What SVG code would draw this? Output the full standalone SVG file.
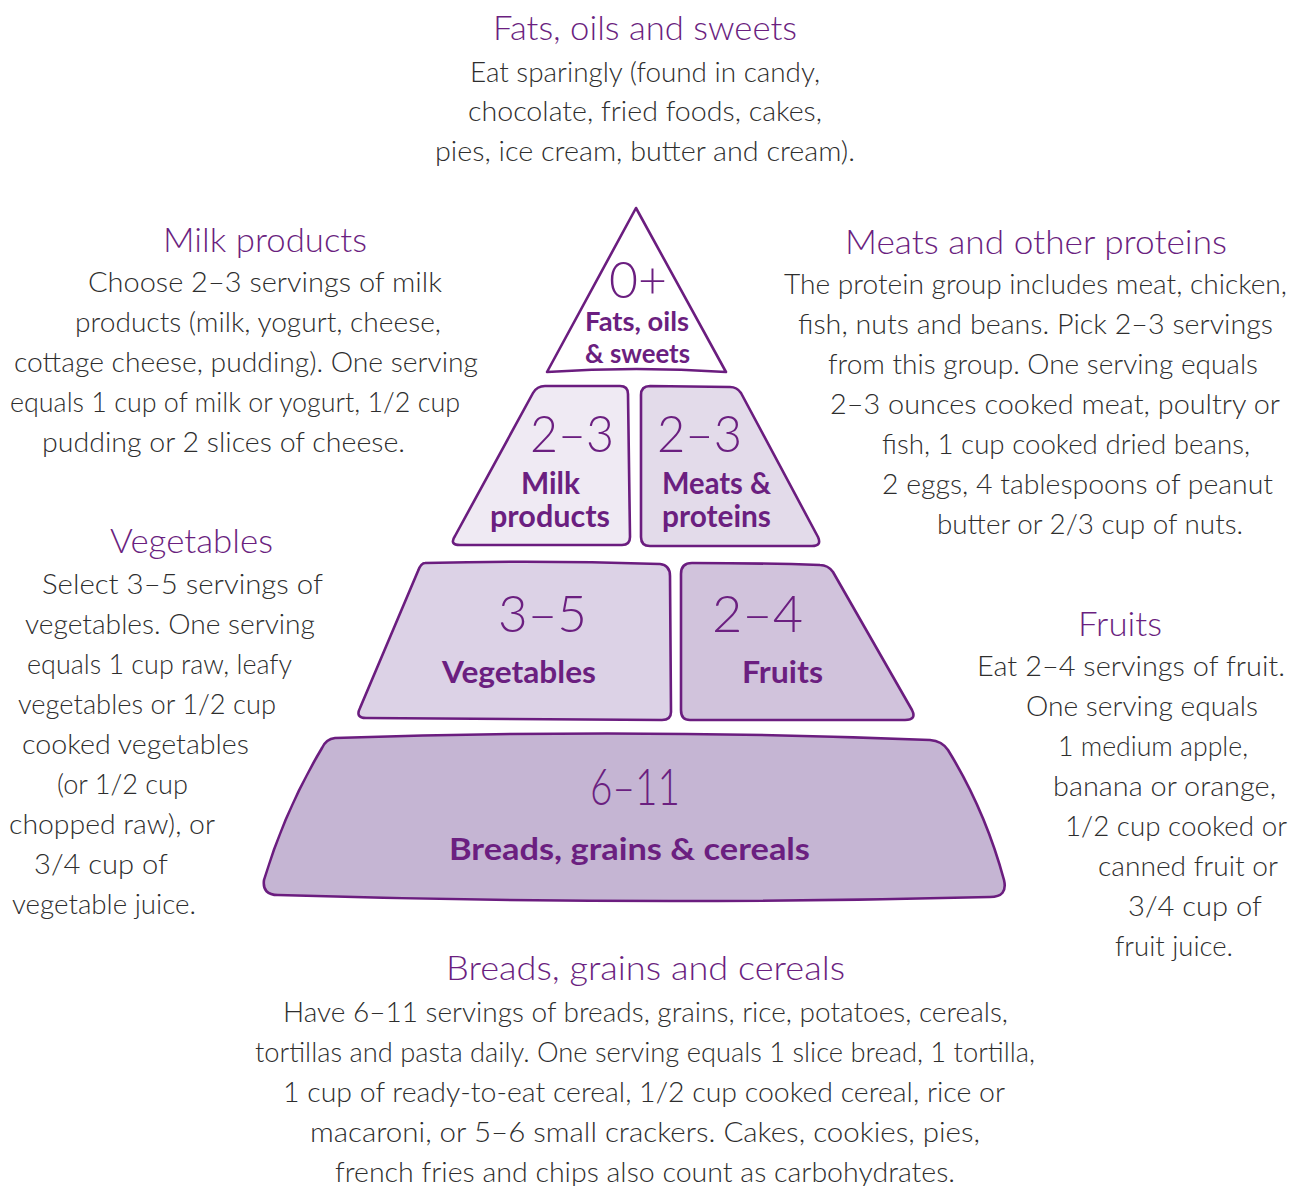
<svg xmlns="http://www.w3.org/2000/svg" width="1305" height="1186" viewBox="0 0 1305 1186">
<style>
.tier{stroke:#6b1d7f;stroke-width:2.6;stroke-linejoin:round}
.h{font-family:Lato,"Noto Sans",sans-serif;font-size:34px;fill:#6b1f80;font-weight:300}
.b{font-family:Lato,"Noto Sans",sans-serif;font-size:28px;fill:#2e2e2e;font-weight:300}
.num{font-family:Lato,"Noto Sans",sans-serif;font-size:52px;fill:#6b1f80;font-weight:300}
.lbl{font-family:Lato,"Open Sans",sans-serif;font-size:30px;fill:#6b1f80;font-weight:bold}
</style>
<rect width="1305" height="1186" fill="#ffffff"/>
<g id="connectors"></g>
<g id="tier-fats">
<path class="tier" fill="#ffffff" d="M636,208 L726,372 Q636,366 547,372 Z"/>
<text class="num" x="609" y="298" textLength="58" lengthAdjust="spacingAndGlyphs">0+</text>
<text class="lbl" style="font-size:26px" x="585" y="331" textLength="104" lengthAdjust="spacingAndGlyphs">Fats, oils</text>
<text class="lbl" style="font-size:26px" x="585" y="363" textLength="105" lengthAdjust="spacingAndGlyphs">&amp; sweets</text>
</g>
<g id="tier-milk">
<path class="tier" fill="#efeaf3" d="M545,386 L620,386 Q628,386 628,394 L630,537 Q630,545 622,545 L460,545 Q449,545 455,536 L533,393 Q537,386 545,386 Z"/>
<text class="num" x="530" y="452" textLength="84" lengthAdjust="spacingAndGlyphs">2–3</text>
<text class="lbl" x="521" y="494" textLength="59" lengthAdjust="spacingAndGlyphs">Milk</text>
<text class="lbl" x="490" y="527" textLength="120" lengthAdjust="spacingAndGlyphs">products</text>
</g>
<g id="tier-meats">
<path class="tier" fill="#e3dbea" d="M650,386 L730,387 Q737,387 741,393 L818,537 Q822,546 812,546 L650,546 Q641,546 641,537 L641,395 Q641,386 650,386 Z"/>
<text class="num" x="657" y="452" textLength="85" lengthAdjust="spacingAndGlyphs">2–3</text>
<text class="lbl" x="662" y="494" textLength="109" lengthAdjust="spacingAndGlyphs">Meats &amp;</text>
<text class="lbl" x="662" y="527" textLength="109" lengthAdjust="spacingAndGlyphs">proteins</text>
</g>
<g id="tier-vegetables">
<path class="tier" fill="#dcd2e6" d="M425,563 Q540,560 660,564 Q670,565 670,576 L671,712 Q671,720 662,720 L366,718 Q355,718 360,708 L418,571 Q421,563 425,563 Z"/>
<text class="num" x="498" y="632" textLength="89" lengthAdjust="spacingAndGlyphs">3–5</text>
<text class="lbl" x="442" y="683" textLength="154" lengthAdjust="spacingAndGlyphs">Vegetables</text>
</g>
<g id="tier-fruits">
<path class="tier" fill="#d1c3dc" d="M692,563 Q760,563 820,565 Q828,565 833,572 L912,710 Q917,720 905,720 L690,720 Q681,720 681,710 L681,574 Q681,563 692,563 Z"/>
<text class="num" x="712" y="632" textLength="91" lengthAdjust="spacingAndGlyphs">2–4</text>
<text class="lbl" x="742" y="683" textLength="81" lengthAdjust="spacingAndGlyphs">Fruits</text>
</g>
<g id="tier-breads">
<path class="tier" fill="#c5b5d3" d="M335,738 Q636,728 930,740 Q942,741 948,750 Q985,810 1004,880 Q1008,897 990,897 Q636,906 278,895 Q262,895 264,880 Q285,810 322,748 Q326,739 335,738 Z"/>
<text class="num" x="590" y="805" textLength="90" lengthAdjust="spacingAndGlyphs">6–11</text>
<text class="lbl" x="449" y="860" textLength="361" lengthAdjust="spacingAndGlyphs">Breads, grains &amp; cereals</text>
</g>
<g id="note-fats">
<text class="h" x="493" y="40" textLength="304" lengthAdjust="spacingAndGlyphs">Fats, oils and sweets</text>
<text class="b" x="470" y="82" textLength="350" lengthAdjust="spacingAndGlyphs">Eat sparingly (found in candy,</text>
<text class="b" x="468" y="121" textLength="354" lengthAdjust="spacingAndGlyphs">chocolate, fried foods, cakes,</text>
<text class="b" x="435" y="161" textLength="420" lengthAdjust="spacingAndGlyphs">pies, ice cream, butter and cream).</text>
</g>
<g id="note-milk">
<text class="h" x="163" y="252" textLength="204" lengthAdjust="spacingAndGlyphs">Milk products</text>
<text class="b" x="88" y="292" textLength="354" lengthAdjust="spacingAndGlyphs">Choose 2–3 servings of milk</text>
<text class="b" x="75" y="332" textLength="366" lengthAdjust="spacingAndGlyphs">products (milk, yogurt, cheese,</text>
<text class="b" x="14" y="372" textLength="464" lengthAdjust="spacingAndGlyphs">cottage cheese, pudding). One serving</text>
<text class="b" x="10" y="412" textLength="450" lengthAdjust="spacingAndGlyphs">equals 1 cup of milk or yogurt, 1/2 cup</text>
<text class="b" x="42" y="452" textLength="363" lengthAdjust="spacingAndGlyphs">pudding or 2 slices of cheese.</text>
</g>
<g id="note-meats">
<text class="h" x="845" y="254" textLength="382" lengthAdjust="spacingAndGlyphs">Meats and other proteins</text>
<text class="b" x="784" y="294" textLength="503" lengthAdjust="spacingAndGlyphs">The protein group includes meat, chicken,</text>
<text class="b" x="798" y="334" textLength="475" lengthAdjust="spacingAndGlyphs">fish, nuts and beans. Pick 2–3 servings</text>
<text class="b" x="828" y="374" textLength="430" lengthAdjust="spacingAndGlyphs">from this group. One serving equals</text>
<text class="b" x="830" y="414" textLength="450" lengthAdjust="spacingAndGlyphs">2–3 ounces cooked meat, poultry or</text>
<text class="b" x="882" y="454" textLength="368" lengthAdjust="spacingAndGlyphs">fish, 1 cup cooked dried beans,</text>
<text class="b" x="882" y="494" textLength="391" lengthAdjust="spacingAndGlyphs">2 eggs, 4 tablespoons of peanut</text>
<text class="b" x="937" y="534" textLength="306" lengthAdjust="spacingAndGlyphs">butter or 2/3 cup of nuts.</text>
</g>
<g id="note-vegetables">
<text class="h" x="110" y="553" textLength="163" lengthAdjust="spacingAndGlyphs">Vegetables</text>
<text class="b" x="42" y="594" textLength="281" lengthAdjust="spacingAndGlyphs">Select 3–5 servings of</text>
<text class="b" x="25" y="634" textLength="290" lengthAdjust="spacingAndGlyphs">vegetables. One serving</text>
<text class="b" x="27" y="674" textLength="265" lengthAdjust="spacingAndGlyphs">equals 1 cup raw, leafy</text>
<text class="b" x="18" y="714" textLength="258" lengthAdjust="spacingAndGlyphs">vegetables or 1/2 cup</text>
<text class="b" x="22" y="754" textLength="227" lengthAdjust="spacingAndGlyphs">cooked vegetables</text>
<text class="b" x="57" y="794" textLength="131" lengthAdjust="spacingAndGlyphs">(or 1/2 cup</text>
<text class="b" x="9" y="834" textLength="206" lengthAdjust="spacingAndGlyphs">chopped raw), or</text>
<text class="b" x="34" y="874" textLength="134" lengthAdjust="spacingAndGlyphs">3/4 cup of</text>
<text class="b" x="12" y="914" textLength="184" lengthAdjust="spacingAndGlyphs">vegetable juice.</text>
</g>
<g id="note-fruits">
<text class="h" x="1078" y="636" textLength="84" lengthAdjust="spacingAndGlyphs">Fruits</text>
<text class="b" x="977" y="676" textLength="308" lengthAdjust="spacingAndGlyphs">Eat 2–4 servings of fruit.</text>
<text class="b" x="1026" y="716" textLength="232" lengthAdjust="spacingAndGlyphs">One serving equals</text>
<text class="b" x="1058" y="756" textLength="190" lengthAdjust="spacingAndGlyphs">1 medium apple,</text>
<text class="b" x="1053" y="796" textLength="223" lengthAdjust="spacingAndGlyphs">banana or orange,</text>
<text class="b" x="1065" y="836" textLength="222" lengthAdjust="spacingAndGlyphs">1/2 cup cooked or</text>
<text class="b" x="1098" y="876" textLength="180" lengthAdjust="spacingAndGlyphs">canned fruit or</text>
<text class="b" x="1128" y="916" textLength="134" lengthAdjust="spacingAndGlyphs">3/4 cup of</text>
<text class="b" x="1115" y="956" textLength="118" lengthAdjust="spacingAndGlyphs">fruit juice.</text>
</g>
<g id="note-breads">
<text class="h" x="446" y="980" textLength="399" lengthAdjust="spacingAndGlyphs">Breads, grains and cereals</text>
<text class="b" x="283" y="1022" textLength="725" lengthAdjust="spacingAndGlyphs">Have 6–11 servings of breads, grains, rice, potatoes, cereals,</text>
<text class="b" x="255" y="1062" textLength="780" lengthAdjust="spacingAndGlyphs">tortillas and pasta daily. One serving equals 1 slice bread, 1 tortilla,</text>
<text class="b" x="283" y="1102" textLength="722" lengthAdjust="spacingAndGlyphs">1 cup of ready-to-eat cereal, 1/2 cup cooked cereal, rice or</text>
<text class="b" x="310" y="1142" textLength="670" lengthAdjust="spacingAndGlyphs">macaroni, or 5–6 small crackers. Cakes, cookies, pies,</text>
<text class="b" x="335" y="1182" textLength="620" lengthAdjust="spacingAndGlyphs">french fries and chips also count as carbohydrates.</text>
</g>
</svg>
